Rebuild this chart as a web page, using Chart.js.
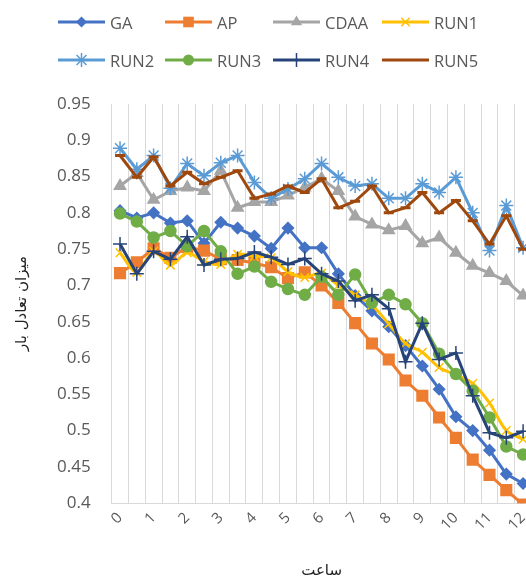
<!DOCTYPE html>
<html lang="en">
  <head>
    <meta charset="UTF-8" />
    <meta name="viewport" content="width=device-width, initial-scale=1.0" />
    <title>Load balance</title>
    <script src="https://cdn.jsdelivr.net/npm/chart.js"></script>
    <style>
      html,
      body {
        margin: 0;
        padding: 0;
        background: #fff;
        overflow: hidden;
      }
      .chart_wrap {
        position: relative;
        width: 542px;
        height: 580px;
      }
      #legend {
        position: absolute;
        left: 58px;
        top: 3px;
        display: grid;
        grid-template-columns: 107px 108px 109px 110px;
        grid-auto-rows: 38px;
        font-family: "Open Sans", sans-serif;
        font-size: 16.5px;
        color: #595959;
      }
      .legend_item {
        display: flex;
        align-items: center;
      }
      .legend_item canvas {
        margin-right: 5px;
      }
    </style>
  </head>
  <body>
    <div class="chart_wrap">
      <canvas id="chart-area" width="542" height="580"></canvas>
      <div id="legend"></div>
    </div>

    <script>
      // hours on the x axis (half-hour steps)
      const hours = [
        "0", "0.5", "1", "1.5", "2", "2.5", "3", "3.5", "4", "4.5", "5", "5.5",
        "6", "6.5", "7", "7.5", "8", "8.5", "9", "9.5", "10", "10.5", "11",
        "11.5", "12",
      ];

      const gaData = [
        0.803, 0.793, 0.8, 0.786, 0.789, 0.758, 0.787, 0.779, 0.768, 0.751,
        0.779, 0.752, 0.752, 0.716, 0.686, 0.665, 0.643, 0.617, 0.589, 0.557,
        0.519, 0.5, 0.473, 0.44, 0.427,
      ];
      const apData = [
        0.717, 0.732, 0.751, 0.738, 0.753, 0.748, 0.736, 0.735, 0.731, 0.725,
        0.71, 0.718, 0.7, 0.676, 0.648, 0.62, 0.598, 0.569, 0.548, 0.518, 0.49,
        0.46, 0.439, 0.418, 0.398,
      ];
      const cdaaData = [
        0.837, 0.855, 0.818, 0.83, 0.835, 0.83, 0.858, 0.807, 0.815, 0.815,
        0.824, 0.835, 0.847, 0.83, 0.795, 0.784, 0.776, 0.782, 0.758, 0.766,
        0.745, 0.727, 0.717, 0.706, 0.686,
      ];
      const run1Data = [
        0.745, 0.718, 0.747, 0.728, 0.745, 0.733, 0.729, 0.743, 0.74, 0.738,
        0.719, 0.711, 0.717, 0.7, 0.687, 0.673, 0.647, 0.62, 0.608, 0.587,
        0.577, 0.565, 0.538, 0.5, 0.488,
      ];
      const run2Data = [
        0.889, 0.86, 0.879, 0.834, 0.868, 0.851, 0.869, 0.879, 0.842, 0.82,
        0.833, 0.847, 0.868, 0.849, 0.837, 0.84, 0.82, 0.82, 0.84, 0.828, 0.849,
        0.8, 0.748, 0.81, 0.752,
      ];
      const run3Data = [
        0.799, 0.788, 0.766, 0.775, 0.754, 0.775, 0.747, 0.716, 0.726, 0.705,
        0.695, 0.687, 0.712, 0.687, 0.715, 0.676, 0.687, 0.674, 0.648, 0.606,
        0.578, 0.555, 0.518, 0.478, 0.467,
      ];
      const run4Data = [
        0.757, 0.716, 0.747, 0.736, 0.767, 0.728, 0.736, 0.737, 0.746, 0.739,
        0.729, 0.737, 0.716, 0.706, 0.679, 0.687, 0.668, 0.595, 0.648, 0.598,
        0.607, 0.548, 0.497, 0.49, 0.499,
      ];
      const run5Data = [
        0.879, 0.849, 0.877, 0.837, 0.856, 0.84, 0.849, 0.858, 0.82, 0.826,
        0.837, 0.828, 0.847, 0.807, 0.816, 0.837, 0.8, 0.807, 0.828, 0.8, 0.817,
        0.789, 0.757, 0.796, 0.75,
      ];

      const yMin = 0.4;
      const yMax = 0.95;
      const yStep = 0.05;

      // name, values, colour, marker, marker radius, line tension
      const series = [
        ["GA", gaData, "#4472C4", "rectRot", 5.5, 0],
        ["AP", apData, "#ED7D31", "rect", 7.5, 0],
        ["CDAA", cdaaData, "#A5A5A5", "triangle", 6.5, 0],
        ["RUN1", run1Data, "#FFC000", "crossRot", 6, 0.3],
        ["RUN2", run2Data, "#5B9BD5", "star", 7, 0],
        ["RUN3", run3Data, "#70AD47", "circle", 5.5, 0],
        ["RUN4", run4Data, "#264478", "cross", 7, 0],
        ["RUN5", run5Data, "#9E480E", "line", 5, 0],
      ];

      const datasets = series.map((s, i) => ({
        label: s[0],
        data: s[1],
        borderColor: s[2],
        backgroundColor: s[2],
        pointBackgroundColor: s[2],
        pointBorderColor: s[2],
        pointStyle: s[3],
        pointRadius: s[4],
        pointBorderWidth: s[3] == "line" ? 3 : 1.5,
        borderWidth: 3,
        tension: s[5],
        fill: false,
        order: series.length - i, // later series on top, like the original
      }));

      const grey = "#595959";
      const gridGrey = "#d9d9d9";

      const ctx = document.getElementById("chart-area").getContext("2d");
      new Chart(ctx, {
        type: "line",
        data: { labels: hours, datasets: datasets },
        options: {
          responsive: false,
          animation: false,
          layout: { padding: { top: 104, left: 3, right: 4, bottom: 0 } },
          plugins: {
            legend: { display: false },
            tooltip: { enabled: false },
          },
          scales: {
            x: {
              offset: true,
              grid: {
                offset: true,
                color: gridGrey,
                drawTicks: false,
              },
              border: { color: gridGrey },
              ticks: {
                autoSkip: false,
                maxRotation: 45,
                minRotation: 45,
                padding: 6,
                color: grey,
                font: { family: "Open Sans", size: 15 },
                callback: function (value, index) {
                  const h = hours[index];
                  return h.indexOf(".") < 0 ? h : "";
                },
              },
              title: {
                display: true,
                text: "ساعت",
                color: "#222",
                font: { family: "DejaVu Sans", size: 15 },
                padding: { top: 22, bottom: 0 },
              },
            },
            y: {
              min: yMin,
              max: yMax,
              grid: { display: false, drawTicks: false },
              border: { color: gridGrey },
              ticks: {
                stepSize: yStep,
                padding: 21,
                color: grey,
                font: { family: "Open Sans", size: 17 },
                callback: (v) => String(+v.toFixed(2)),
              },
              title: {
                display: true,
                text: "میزان تعادل بار",
                color: "#222",
                font: { family: "DejaVu Sans", size: 15 },
                padding: { top: 10, bottom: 5 },
              },
            },
          },
        },
      });

      // legend: line with the marker in the middle, 4 per row
      function drawMarker(c, style, x, y, r) {
        c.beginPath();
        if (style == "rectRot") {
          c.moveTo(x - r, y);
          c.lineTo(x, y - r);
          c.lineTo(x + r, y);
          c.lineTo(x, y + r);
          c.closePath();
          c.fill();
        } else if (style == "rect") {
          const s = r * Math.SQRT1_2;
          c.fillRect(x - s, y - s, 2 * s, 2 * s);
        } else if (style == "triangle") {
          c.moveTo(x - r * 0.866, y + r / 2);
          c.lineTo(x + r * 0.866, y + r / 2);
          c.lineTo(x, y - r);
          c.closePath();
          c.fill();
        } else if (style == "circle") {
          c.arc(x, y, r, 0, Math.PI * 2);
          c.fill();
        } else if (style == "cross" || style == "star") {
          c.moveTo(x, y - r);
          c.lineTo(x, y + r);
          c.moveTo(x - r, y);
          c.lineTo(x + r, y);
          c.stroke();
        }
        if (style == "crossRot" || style == "star") {
          const d = r * Math.SQRT1_2;
          c.beginPath();
          c.moveTo(x - d, y - d);
          c.lineTo(x + d, y + d);
          c.moveTo(x + d, y - d);
          c.lineTo(x - d, y + d);
          c.stroke();
        }
      }

      const legend = document.getElementById("legend");
      series.forEach((s) => {
        const item = document.createElement("div");
        item.className = "legend_item";
        const sw = document.createElement("canvas");
        sw.width = 47;
        sw.height = 18;
        const c = sw.getContext("2d");
        c.strokeStyle = s[2];
        c.fillStyle = s[2];
        c.lineWidth = 3;
        c.beginPath();
        c.moveTo(0, 9);
        c.lineTo(47, 9);
        c.stroke();
        c.lineWidth = 1.5;
        if (s[3] != "line") drawMarker(c, s[3], 23.5, 9, s[4]);
        const txt = document.createElement("span");
        txt.textContent = s[0];
        item.appendChild(sw);
        item.appendChild(txt);
        legend.appendChild(item);
      });
    </script>
  </body>
</html>
